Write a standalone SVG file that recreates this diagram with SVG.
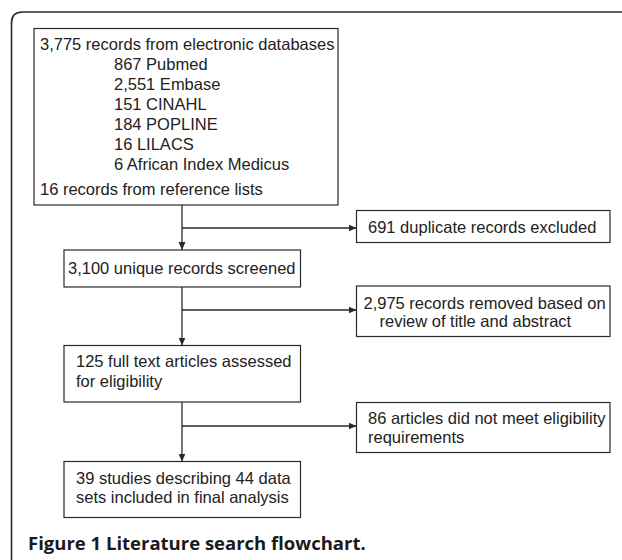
<svg xmlns="http://www.w3.org/2000/svg" width="622" height="560" viewBox="0 0 622 560">
<defs>
<style>
.box{fill:#fff;stroke:#2a2a2a;stroke-width:1.2}
.t{font-family:"Liberation Sans",Arial,sans-serif;font-size:16.5px;fill:#222}
.ln{fill:none;stroke:#2a2a2a;stroke-width:1.3}
.cap{font-family:"Open Sans","Liberation Sans",sans-serif;font-weight:700;font-size:18.5px;fill:#1a1a1a}
</style>
<marker id="ah" markerWidth="8" markerHeight="8" refX="8" refY="4" orient="auto" markerUnits="userSpaceOnUse">
<path d="M0,0.5 L8,4 L0,7.5 Z" fill="#2a2a2a"/>
</marker>
</defs>
<rect width="622" height="560" fill="#fff"/>
<path d="M11.5,560 L11.5,23 Q11.5,12 22.5,12 L622,12" fill="none" stroke="#2a2a2a" stroke-width="1.6"/>
<g id="connectors">
<line class="ln" x1="182" y1="205" x2="182" y2="250" marker-end="url(#ah)"/>
<line class="ln" x1="182" y1="228" x2="356.5" y2="228" marker-end="url(#ah)"/>
<line class="ln" x1="182" y1="287" x2="182" y2="345.5" marker-end="url(#ah)"/>
<line class="ln" x1="182" y1="310" x2="356.5" y2="310" marker-end="url(#ah)"/>
<line class="ln" x1="182" y1="402" x2="182" y2="461.5" marker-end="url(#ah)"/>
<line class="ln" x1="182" y1="426" x2="356.5" y2="426" marker-end="url(#ah)"/>
</g>
<g id="sources">
<rect class="box" x="34" y="28.5" width="304" height="176.5"/>
<text class="t" x="40" y="50">3,775 records from electronic databases</text>
<text class="t" x="114" y="70">867 Pubmed</text>
<text class="t" x="114" y="90">2,551 Embase</text>
<text class="t" x="114" y="110">151 CINAHL</text>
<text class="t" x="114" y="130">184 POPLINE</text>
<text class="t" x="114" y="150">16 LILACS</text>
<text class="t" x="114" y="170">6 African Index Medicus</text>
<text class="t" x="40" y="195">16 records from reference lists</text>
</g>
<g id="duplicates">
<rect class="box" x="356.5" y="210.5" width="253.5" height="32"/>
<text class="t" x="368" y="233">691 duplicate records excluded</text>
</g>
<g id="screened">
<rect class="box" x="64" y="250" width="236.5" height="37"/>
<text class="t" x="68" y="273.5">3,100 unique records screened</text>
</g>
<g id="removed">
<rect class="box" x="356.5" y="286" width="253.5" height="50.5"/>
<text class="t" x="363.5" y="308.5">2,975 records removed based on</text>
<text class="t" x="379.5" y="327">review of title and abstract</text>
</g>
<g id="fulltext">
<rect class="box" x="64" y="345.5" width="236.5" height="56.5"/>
<text class="t" x="76" y="367">125 full text articles assessed</text>
<text class="t" x="76" y="387">for eligibility</text>
</g>
<g id="ineligible">
<rect class="box" x="356.5" y="402.5" width="253.5" height="50"/>
<text class="t" x="368" y="424">86 articles did not meet eligibility</text>
<text class="t" x="368" y="443">requirements</text>
</g>
<g id="included">
<rect class="box" x="64" y="461.5" width="236.5" height="56"/>
<text class="t" x="76" y="483.5">39 studies describing 44 data</text>
<text class="t" x="76" y="503">sets included in final analysis</text>
</g>
<text class="cap" x="28" y="550">Figure 1 Literature search flowchart.</text>
</svg>
